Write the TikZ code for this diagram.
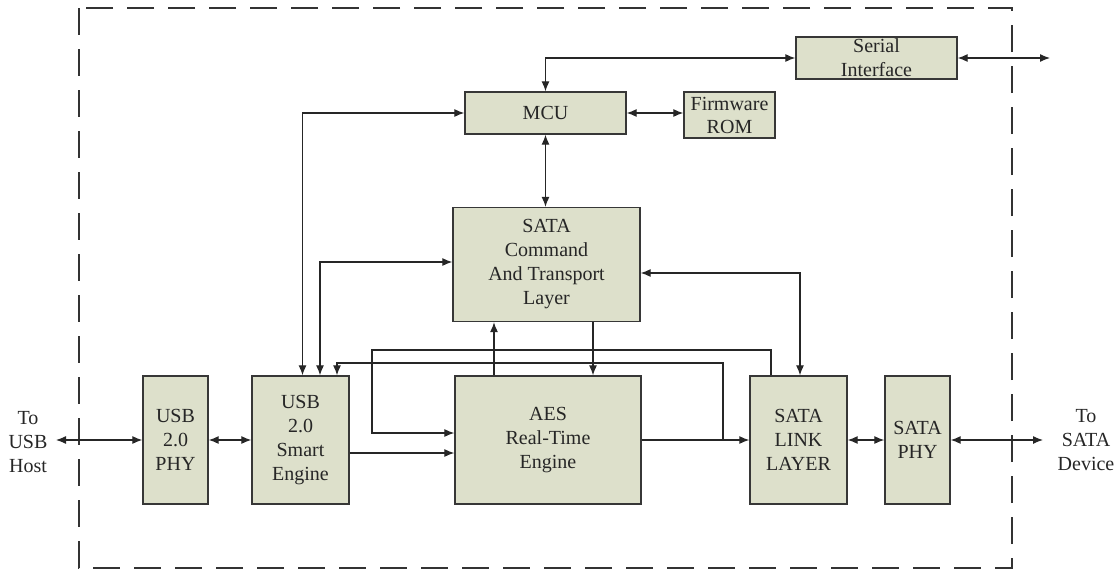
\documentclass[tikz,border=0pt]{standalone}
\usepackage{fontspec}
\setmainfont{Liberation Serif}
\usetikzlibrary{arrows.meta,positioning}
\definecolor{blockfill}{RGB}{221,224,203}
\definecolor{blockline}{RGB}{55,55,55}

\begin{document}
\begin{tikzpicture}[x=1pt,y=-1pt,
font=\fontsize{20}{24}\selectfont,
block/.style={draw=blockline,fill=blockfill,line width=1.3pt,text=black!85,
align=center,inner sep=0pt},
conn/.style={line width=1.2pt,draw=black!85,>={Latex[length=10pt,width=8pt]}},
dashframe/.style={draw=black!80,line width=1.4pt,dash pattern=on 27pt off 14pt}]

\useasboundingbox (0,0) rectangle (1117,570);
\draw[dashframe] (79,8) rectangle (1012,568);

\node[block,minimum width=65pt,minimum height=128pt] (phy) at (175.5,440) {USB\\2.0\\PHY};
\node[block,minimum width=97pt,minimum height=128pt] (use) at (300.5,440) {USB\\2.0\\Smart\\Engine};
\node[block,minimum width=186pt,minimum height=128pt] (aes) at (548,440) {AES\\Real-Time\\Engine};
\node[block,minimum width=97pt,minimum height=128pt] (sll) at (798.5,440) {SATA\\LINK\\LAYER};
\node[block,minimum width=65pt,minimum height=128pt] (sphy) at (917.5,440) {SATA\\PHY};
\node[block,minimum width=187pt,minimum height=114pt] (cmd) at (546.5,264.5) {SATA\\Command\\And Transport\\Layer};
\node[block,minimum width=161pt,minimum height=42pt] (mcu) at (545.5,113) {MCU};
\node[block,minimum width=91pt,minimum height=46pt,font=\fontsize{20}{23}\selectfont] (rom) at (729.5,115) {Firmware\\ROM};
\node[block,minimum width=161pt,minimum height=42pt] (ser) at (876.5,58) {Serial\\Interface};

\node[align=center,text=black!85] (host) at (28,442) {To\\USB\\Host};
\node[align=center,text=black!85] (dev) at (1086,440) {To\\SATA\\Device};

\coordinate (hostend) at (56,440);
\coordinate (devend) at (1043,440);
\coordinate (serend) at (1050,58);
\coordinate (tap) at (723,440);

\draw[conn,<->] (hostend) -- (phy.west);
\draw[conn,<->] (phy.east) -- (use.west);
\draw[conn,->] ([yshift=-13pt]use.east) -- ([yshift=-13pt]use.east -| aes.west);
\draw[conn,->] (aes.east) -- (sll.west);
\draw[conn,<->] (sll.east) -- (sphy.west);
\draw[conn,<->] (sphy.east) -- (devend);

\draw[conn,<->] (mcu.west) -| ([xshift=2pt]use.north);
\draw[conn,<->] ([yshift=2.5pt]cmd.west) -| ([xshift=19.5pt]use.north);
\draw[conn,->] (tap) |- (337,363) -- ([xshift=36.5pt]use.north);
\draw[conn,->] ([xshift=-27.5pt]sll.north) |- (372,350) |- ([yshift=7pt]aes.west);

\draw[conn,->] ([xshift=-54pt]aes.north) -- ([xshift=-54pt]aes.north |- cmd.south);
\draw[conn,->] ([xshift=46.5pt]cmd.south) -- ([xshift=46.5pt]cmd.south |- aes.north);
\draw[conn,<->] ([yshift=-8.5pt]cmd.east) -| ([xshift=1.5pt]sll.north);

\draw[conn,<->] (mcu.south) -- (mcu.south |- cmd.north);
\draw[conn,<->] (mcu.east) -- (mcu.east -| rom.west);
\draw[conn,<->] (mcu.north) |- (ser.west);
\draw[conn,<->] (ser.east) -- (serend);
\end{tikzpicture}
\end{document}
